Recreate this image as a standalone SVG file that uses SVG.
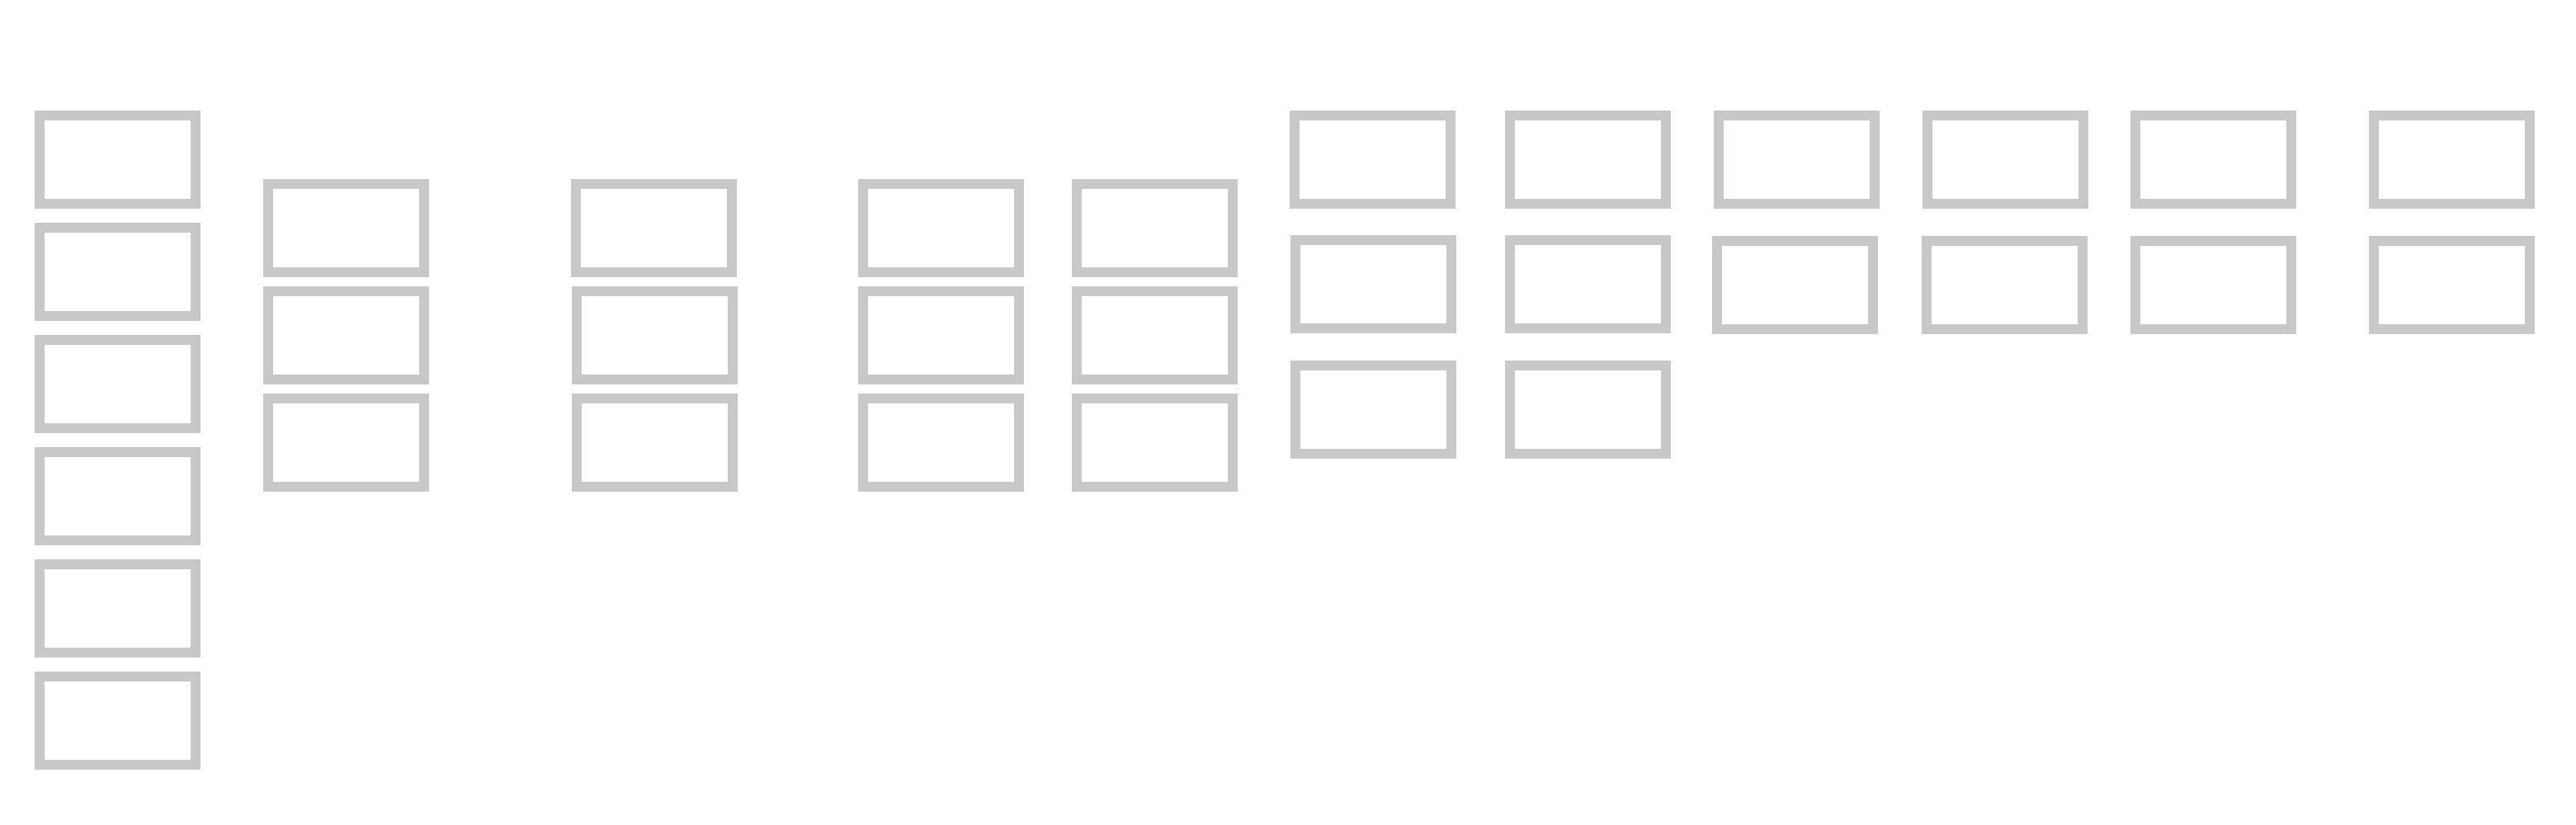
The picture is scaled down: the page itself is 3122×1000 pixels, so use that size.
<svg xmlns="http://www.w3.org/2000/svg" width="3122" height="1000" viewBox="0 0 3122 1000">
<style>
.n{fill:#ffffff;stroke:#c8c8c8;stroke-width:12}
</style>
<rect x="0" y="0" width="3122" height="1000" fill="#ffffff"/>
<g id="connectors"></g>
<g id="c1r1"><rect class="n" x="48" y="140" width="189" height="107"/></g>
<g id="c1r2"><rect class="n" x="48" y="276" width="189" height="107"/></g>
<g id="c1r3"><rect class="n" x="48" y="412" width="189" height="107"/></g>
<g id="c1r4"><rect class="n" x="48" y="548" width="189" height="107"/></g>
<g id="c1r5"><rect class="n" x="48" y="684" width="189" height="107"/></g>
<g id="c1r6"><rect class="n" x="48" y="820" width="189" height="107"/></g>
<g id="c2r1"><rect class="n" x="325" y="223" width="189" height="107"/></g>
<g id="c2r2"><rect class="n" x="325" y="353" width="189" height="107"/></g>
<g id="c2r3"><rect class="n" x="325" y="483" width="189" height="107"/></g>
<g id="c3r1"><rect class="n" x="698" y="223" width="189" height="107"/></g>
<g id="c3r2"><rect class="n" x="699" y="353" width="189" height="107"/></g>
<g id="c3r3"><rect class="n" x="699" y="483" width="189" height="107"/></g>
<g id="c4r1"><rect class="n" x="1046" y="223" width="189" height="107"/></g>
<g id="c4r2"><rect class="n" x="1046" y="353" width="189" height="107"/></g>
<g id="c4r3"><rect class="n" x="1046" y="483" width="189" height="107"/></g>
<g id="c5r1"><rect class="n" x="1305" y="223" width="189" height="107"/></g>
<g id="c5r2"><rect class="n" x="1305" y="353" width="189" height="107"/></g>
<g id="c5r3"><rect class="n" x="1305" y="483" width="189" height="107"/></g>
<g id="c6r1"><rect class="n" x="1569" y="140" width="189" height="107"/></g>
<g id="c6r2"><rect class="n" x="1570" y="291" width="189" height="107"/></g>
<g id="c6r3"><rect class="n" x="1570" y="443" width="189" height="107"/></g>
<g id="c7r1"><rect class="n" x="1830" y="140" width="189" height="107"/></g>
<g id="c7r2"><rect class="n" x="1830" y="291" width="189" height="107"/></g>
<g id="c7r3"><rect class="n" x="1830" y="443" width="189" height="107"/></g>
<g id="c8r1"><rect class="n" x="2083" y="140" width="189" height="107"/></g>
<g id="c8r2"><rect class="n" x="2081" y="292" width="189" height="107"/></g>
<g id="c9r1"><rect class="n" x="2336" y="140" width="189" height="107"/></g>
<g id="c9r2"><rect class="n" x="2335" y="292" width="189" height="107"/></g>
<g id="c10r1"><rect class="n" x="2588" y="140" width="189" height="107"/></g>
<g id="c10r2"><rect class="n" x="2588" y="292" width="189" height="107"/></g>
<g id="c11r1"><rect class="n" x="2877" y="140" width="189" height="107"/></g>
<g id="c11r2"><rect class="n" x="2877" y="292" width="189" height="107"/></g>
</svg>
